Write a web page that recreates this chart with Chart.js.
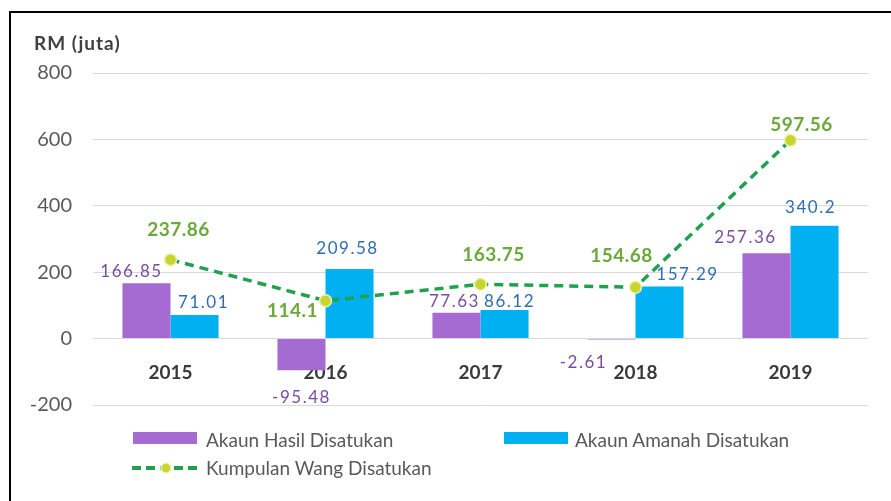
<!DOCTYPE html>
<html>
<head>
<meta charset="utf-8">
<script src="https://cdn.jsdelivr.net/npm/chart.js@4/dist/chart.umd.min.js"></script>
<style>
  html, body { margin: 0; padding: 0; background: #fff; }
  #wrap { position: relative; width: 891px; height: 501px; overflow: hidden; font-family: Lato, "Open Sans", sans-serif; }
  #frame { position: absolute; left: 9px; top: 11px; right: -5px; bottom: -5px; border-top: 2px solid #000; border-left: 2px solid #000; }
  canvas { position: absolute; left: 0; top: 0; }
  #ytitle { position: absolute; left: 34px; top: 31px; font: bold 19px Lato, sans-serif; color: #404040; letter-spacing: 1px; }
  .lg { position: absolute; font: 19px Lato, sans-serif; color: #595959; line-height: 20px; white-space: nowrap; }
  .box { position: absolute; width: 64px; height: 12px; }
</style>
</head>
<body>
<div id="wrap">
  <div id="frame"></div>
  <canvas id="c" width="891" height="501"></canvas>
  <div id="ytitle">RM (juta)</div>
  <div class="box" style="left:133px;top:432px;background:#a66bd3"></div>
  <div class="lg" style="left:206px;top:430px">Akaun Hasil Disatukan</div>
  <div class="box" style="left:504px;top:432px;background:#00b0f0"></div>
  <div class="lg" style="left:575px;top:430px">Akaun Amanah Disatukan</div>
  <svg style="position:absolute;left:130px;top:460px" width="74" height="16">
    <line x1="2" y1="8" x2="70" y2="8" stroke="#1fa14f" stroke-width="4" stroke-dasharray="9,5"/>
    <circle cx="36" cy="8" r="5" fill="#c8d52e" stroke="#eef2b8" stroke-width="1.5"/>
  </svg>
  <div class="lg" style="left:206px;top:458px">Kumpulan Wang Disatukan</div>
</div>
<script>
// ---- data ----
const categories = ['2015', '2016', '2017', '2018', '2019'];
const akaunHasil = [166.85, -95.48, 77.63, -2.61, 257.36];
const akaunAmanah = [71.01, 209.58, 86.12, 157.29, 340.2];
const kumpulanWang = [237.86, 114.1, 163.75, 154.68, 597.56];
const yTicks = [-200, 0, 200, 400, 600, 800];

// label nudges (style only), [dx, dy] from the mark's end
const labelNudge = [
  [[-15, -12], [0, 27], [-2, -11], [-28, 23], [-21, -16]],
  [[9, -13], [-2, -21], [5, -8], [28, -12], [-4, -18]],
  [[8, -30], [-33, 10], [13, -29], [-14, -31], [11, -15]]
];
const labelStyle = [
  { color: '#7a4c9f', font: '17px Lato, sans-serif', spacing: '1.5px' },
  { color: '#2f6db3', font: '17px Lato, sans-serif', spacing: '1.5px' },
  { color: '#6aa93a', font: 'bold 19px Lato, sans-serif', spacing: '0.5px' }
];

const dataLabels = {
  id: 'dataLabels',
  afterDatasetsDraw(chart) {
    const ctx = chart.ctx;
    chart.data.datasets.forEach((ds, di) => {
      const meta = chart.getDatasetMeta(di);
      const st = labelStyle[di];
      meta.data.forEach((el, i) => {
        const [dx, dy] = labelNudge[di][i];
        ctx.save();
        ctx.font = st.font;
        try { ctx.letterSpacing = st.spacing; } catch (e) {}
        ctx.fillStyle = st.color;
        ctx.textAlign = 'center';
        ctx.textBaseline = 'middle';
        ctx.fillText(String(ds.data[i]), el.x + dx, el.y + dy);
        ctx.restore();
      });
    });
  }
};

new Chart(document.getElementById('c'), {
  type: 'bar',
  data: {
    labels: categories,
    datasets: [
      { label: 'Akaun Hasil Disatukan', data: akaunHasil, backgroundColor: '#a66bd3', order: 1,
        categoryPercentage: 0.62, barPercentage: 1 },
      { label: 'Akaun Amanah Disatukan', data: akaunAmanah, backgroundColor: '#00b0f0', order: 1,
        categoryPercentage: 0.62, barPercentage: 1 },
      { type: 'line', label: 'Kumpulan Wang Disatukan', data: kumpulanWang, order: 0,
        borderColor: '#1fa14f', borderWidth: 3.5, borderDash: [9, 6], tension: 0, fill: false,
        pointRadius: 6, pointBackgroundColor: '#c8d52e', pointBorderColor: '#eef2b8', pointBorderWidth: 1.5 }
    ]
  },
  options: {
    responsive: false,
    animation: false,
    layout: { padding: { top: 73, bottom: 96, right: 23, left: 0 } },
    plugins: { legend: { display: false }, tooltip: { enabled: false }, title: { display: false } },
    scales: {
      x: {
        position: { y: 0 },
        grid: { display: false },
        border: { display: false },
        ticks: { color: '#3a3a3a', font: { family: 'Lato', size: 19, weight: 'bold' }, padding: 15 }
      },
      y: {
        min: -200, max: 800,
        afterBuildTicks(scale) { scale.ticks = yTicks.map(v => ({ value: v })); },
        afterFit(scale) { scale.width = 93; },
        grid: { color: '#d9d9d9', lineWidth: 1, drawTicks: false },
        border: { display: false },
        ticks: { color: '#595959', font: { family: 'Lato', size: 20 }, padding: 21 }
      }
    }
  },
  plugins: [dataLabels]
});
</script>
</body>
</html>
